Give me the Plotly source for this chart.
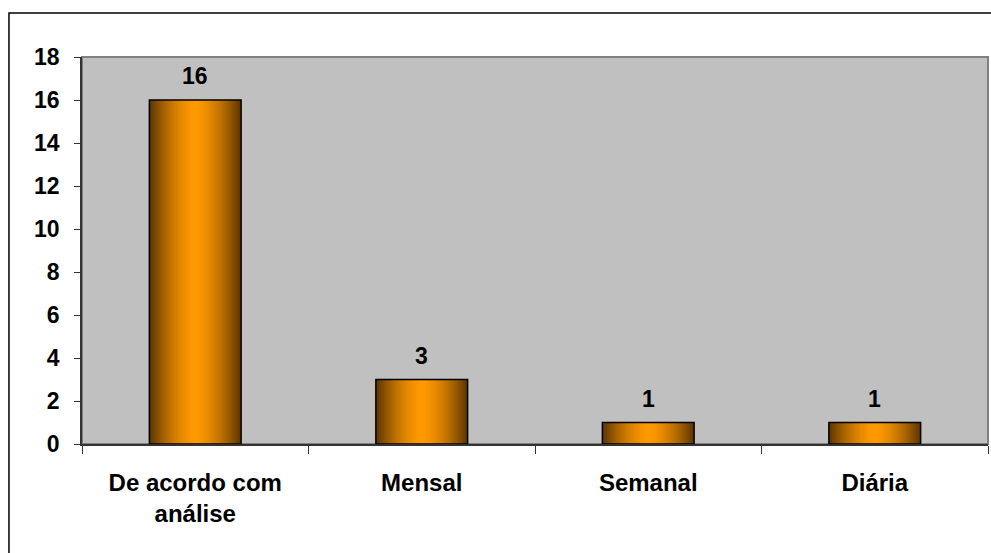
import plotly.graph_objects as go

categories = ["De acordo com<br>análise", "Mensal", "Semanal", "Diária"]
values = [16, 3, 1, 1]
y_ticks = [0, 2, 4, 6, 8, 10, 12, 14, 16, 18]

BAR_W = 0.405
N_LAYERS = 30
dark = (95, 55, 0)
orange = (255, 153, 0)
FONT = "Liberation Sans, Arial"

def mix(t):
    c = [round(o + (d - o) * t) for o, d in zip(orange, dark)]
    return f"rgb({c[0]},{c[1]},{c[2]})"

fig = go.Figure()
for k in range(N_LAYERS):
    frac = 1 - k / N_LAYERS
    t = frac ** 1.6
    fig.add_trace(go.Bar(
        x=categories, y=values, width=BAR_W * frac,
        marker=dict(color=mix(t), line=dict(width=0)),
        hoverinfo="skip", showlegend=False,
    ))

fig.add_trace(go.Bar(
    x=categories, y=values, width=BAR_W,
    marker=dict(color="rgba(0,0,0,0)", line=dict(color="black", width=1.5)),
    showlegend=False,
))

for c, v in zip(categories, values):
    fig.add_annotation(
        x=c, y=v, xref="x", yref="y", text=f"<b>{v}</b>", showarrow=False,
        yanchor="bottom", yshift=9,
        font=dict(family=FONT, size=23, color="black"),
    )

fig.update_layout(
    barmode="overlay",
    width=991, height=553,
    margin=dict(l=82, r=3, t=57, b=109),
    paper_bgcolor="white",
    plot_bgcolor="#C0C0C0",
    font=dict(family=FONT, size=23, color="black"),
    showlegend=False,
    shapes=[
        dict(type="rect", xref="paper", yref="paper", x0=0, x1=1, y0=0, y1=1,
             line=dict(color="#808080", width=2), layer="below"),
        dict(type="rect", xref="paper", yref="paper", x0=-0.0806, x1=1.2, y0=-0.6, y1=1.1137,
             line=dict(color="black", width=1.5)),
    ],
)
fig.update_xaxes(
    showgrid=False, showline=True, linecolor="#333333", linewidth=1.5,
    ticks="outside", tickson="boundaries", ticklen=8, tickcolor="#333333",
    tickfont=dict(family=FONT, size=24, color="black", weight="bold"),
    ticklabelstandoff=16,
)
fig.update_yaxes(
    range=[0, 18], tickvals=y_ticks, showgrid=False, showline=True,
    linecolor="#333333", linewidth=1.5, ticks="outside", ticklen=6, tickcolor="#333333",
    tickfont=dict(family=FONT, size=23, color="black", weight="bold"),
    ticklabelstandoff=10, zeroline=False,
)

fig.write_html("out.html")
